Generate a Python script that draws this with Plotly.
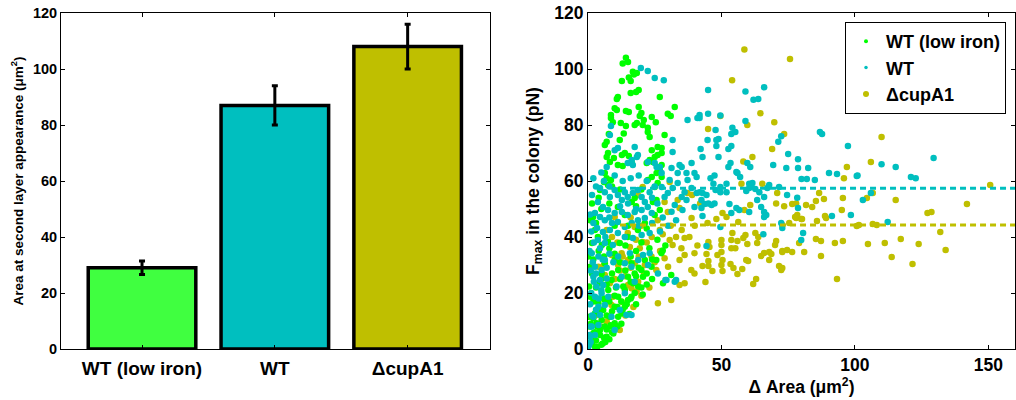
import plotly.graph_objects as go

# ---------------- Left panel: bar chart ----------------
bar_labels = ["WT (low iron)", "WT", "\u0394cupA1"]
bar_values = [29.0, 87.0, 108.0]
bar_errors = [2.4, 7.0, 8.0]
bar_colors = ["#40FF40", "#00BFBF", "#BFBF00"]

# ---------------- Right panel: scatter ----------------
green_x = [14.2, 13, 15, 16.8, 18.3, 17.2, 15.3, 16, 12.7, 16, 18, 19, 11.2, 10.8, 26.9, 10, 10.8, 19, 32.5, 14.2,
           15.3, 20, 19.4, 8.6, 8.6, 29.9, 31, 23.9, 20.9, 18.3, 17.5, 9.3, 12.3, 14.2, 25.4, 20.5, 22.4,
           7.8, 13.4, 11.9, 7, 6.3, 22.4, 23.1, 28.7, 26.1, 7.5, 7, 8.2, 9.7, 12.7, 13.8, 15.3, 16.4, 11.2, 13,
           6.3, 7, 8.6, 6, 7.5, 22, 23.1, 25, 26.1, 23.9, 27.6, 27.6, 24.3, 27.6, 26.9, 25.7, 27.6, 22.4, 23.9,
           26.1, 25, 17.5, 16.4, 24.3, 25.7, 26.9, 25, 4.5, 1.9, 0.7, 2.6, 3.7, 1.5, 5.2, 7.5, 11.9, 14.9, 18.7,
           21.3, 13.8, 11.2,
           0.1, 0.75, 0.4, 0.75, 0.4, 0.75, 1.4, 2.6, 2, 3.2, 2.6, 3.9, 4.5, 5.1, 6.3, 10, 11.3, 8.8, 7.6, 6.3,
           5.7, 5.1, 4.5, 6.3, 8.2, 10, 11.3, 13.2, 15, 17.5, 18.8, 16.3, 13.8, 11.3, 8.8, 7, 10, 12.6, 15, 16.9,
           20, 21.3, 23.8, 25.6, 27.5, 31.2, 28.1, 20.6, 13.8, 16.3, 28, 9.5, 12.5, 15.5, 18, 20.5, 22, 8, 5.5, 3.5,
           1.5, 2.5, 3, 4.5, 5, 6, 7, 8.5, 11, 6.5, 9, 3.5, 1, 2,
           5, 7, 9, 11, 13, 12.5, 14.5, 16, 8, 10, 6, 3.5, 2, 17.5,
           3, 5, 7, 9, 10.5, 12, 14, 16, 18, 20, 19, 22, 24, 1.5,
           2, 4, 6, 8, 10, 12, 14, 16, 18, 20, 23, 26, 29, 24,
           3, 5, 8, 10, 12, 15, 18, 20, 22, 9, 4, 1.5]
green_y = [104, 102, 102.5, 99, 98.6, 98, 97, 95.7, 95.7, 91.4, 91.8, 92.5, 90, 89.3, 90, 86, 85.4, 86.4, 86.4, 85,
           84.6, 84.3, 83.2, 83.6, 82.5, 84, 83.2, 82.9, 81.8, 80.7, 80, 81, 80.7, 79.6, 81, 80, 79,
           76.8, 77, 74.6, 74, 72.9, 77.5, 75.7, 76.4, 72.1, 70, 68.6, 66.8, 68.2, 69.3, 70, 68.9, 66.4, 65.7, 65.4,
           62.9, 61, 60.4, 59.6, 58.6, 66.4, 67.5, 68.6, 69.3, 71, 71.8, 70, 66.8, 65.7, 63.9, 62.9, 61.4, 60.4, 61.4,
           59.3, 57.9, 53.9, 52.5, 52.5, 53.2, 49.6, 47.9, 56.8, 47.1, 46, 42.5, 40, 37.9, 37.1, 38.2, 37.9, 40, 42.5,
           45, 47.9, 50.7,
           33, 29.4, 22.3, 18.7, 11.5, 8, 2, 0.8, 5.6, 9.2, 12.7, 16.3, 23.5, 27, 30.6, 31.8, 28.2, 24.6, 21.1, 17.5,
           13.9, 10.4, 6.8, 8, 11.5, 15.1, 18.7, 22.3, 25.8, 27, 22.3, 18.7, 15.1, 11.5, 8, 4.4, 9.2, 12.7, 17.5, 23.5,
           28.2, 31.8, 29.4, 31.8, 34.2, 26.4, 23.5, 25.8, 21.1, 30.6, 35.2, 5.5, 9, 12.5, 16, 19.5, 23, 3.5, 2, 0.8,
           4, 6, 3, 5, 1.5, 4, 7, 8.5, 8, 2.5, 6, 8, 9, 11,
           14, 12, 13.5, 15, 14, 17, 16, 18, 17, 19, 18, 14, 17, 20,
           22, 25, 23, 27, 22, 25, 28, 24, 26, 22, 29, 27, 25, 27,
           32, 35, 33, 36, 34, 31, 37, 33, 35, 38, 36, 39, 37, 32,
           45, 50, 52, 44, 57, 44, 51, 57, 43, 58, 54, 52]

cyan_x = [19.8, 22.4, 25, 28.4, 45, 59, 66, 62, 63.8, 8.6, 37.3, 41, 41.8, 41.8, 45, 49.6, 59, 47.8, 54.1, 55.2,
          53.7, 44.8, 48.1, 48.9, 48.1, 53.7, 52.6, 42.2, 42.9, 48.9, 72.4, 71.3, 75, 78.7, 59.7, 60.8, 53.4, 52.6,
          69.4, 74.3, 78.7, 82.5, 86.9, 87.7, 97.4, 90.3, 93.3, 56, 57, 47.4, 45.9, 80, 82, 85, 100.7, 31.7, 26.9,
          34.3, 40.7, 55.6,
          47, 49.6, 51.9, 49.6, 51.9, 47.8, 41.8, 42.9, 44.4, 42.5, 43.7, 46.3, 47.4, 45.1, 42.9, 42.5, 60.4, 61.6,
          60.4, 59.3, 61.2, 62.7, 64.2, 67.9, 71.6, 67.2, 74.6, 78.4, 63.4, 66, 53, 55.6, 56.7, 53.7, 60.4, 64.9,
          66, 66.8, 66, 78.7, 72.4, 72.8, 91.4, 98.5, 80.6, 79.9, 65.7, 49.6, 44.4,
          129.5, 110, 115.3, 101, 121, 122.8, 106, 103, 112.3,
          8.2, 10, 11.2, 17.5, 18.3, 14.9, 16.8, 18.7, 16.4, 22.4, 25, 25.7, 27.6, 31.3, 35.1, 33.6, 38.8, 39.9,
          37.3, 31.7, 30.6, 31.7, 36.2, 35.1, 38.8, 40.7, 36.9, 39.9, 35.4, 32.5, 28.7, 4.5, 6.3, 8.2, 10, 11.2,
          12.7, 13.8, 14.9, 16.8, 18.7, 20.1, 21.3, 23.1, 3.7, 5.6, 7.5, 10, 12.7, 14.9, 17.5, 20.1, 22.4, 23.9,
          21.3, 18.7, 16.4, 13.8, 11.2, 9, 6.3, 4.5, 2.6, 3.4, 5.6, 8.2, 11.2, 13.8, 16.8, 20.1, 23.1, 3.7, 6.3,
          9.3, 27.6, 29.9, 33.6, 36.9,
          1.4, 3.9, 6.3, 2.6, 5.1, 2, 4.5, 7, 3.2, 5.7, 2.6, 5.1, 7.6, 3.9, 6.3, 2, 4.5, 1.4, 3.9, 0.75, 2.6, 0.1,
          11.3, 13.8, 12.6, 16.3, 18.8, 20.6, 23.1, 22.5, 26.2, 29.4, 32.5, 10.7, 13.8, 11.9, 14.4, 16.3, 8.8, 10,
          15.7, 17.5, 33, 29, 31.3, 0.5, 1.0,
          0.5, 1, 1.5, 0.8, 1.2, 2.2, 1, 1.8, 0.6, 2.2, 1.2, 3, 4, 5, 3, 5.5, 4.5, 6.5, 8, 7, 9.5, 2, 0.8, 1.5,
          3, 6, 8, 10, 13, 16, 19, 22, 25, 24, 26, 12, 15, 18, 8, 19, 24, 28, 30, 27, 33, 5, 7, 2]
cyan_y = [100.4, 99.3, 96.8, 96, 92.5, 92, 93.5, 89, 89.3, 79.6, 81.8, 82.5, 83.6, 82.5, 84, 83.4, 81.4, 78.2, 79, 77.5,
          76.8, 74.6, 74.6, 75, 72.5, 72.5, 71.4, 71.4, 68.6, 68.6, 76, 74, 69.6, 67.8, 66.4, 65, 66.4, 65,
          65.7, 64.6, 64.6, 64.6, 77.5, 76.8, 72.5, 62.9, 62.5, 62.9, 61.4, 62, 61, 60.7, 60.7, 60.4, 61.8, 74.6, 65,
          65.7, 61.4, 63.2,
          59, 57.9, 59, 56, 56, 56.8, 56, 55.7, 55, 53.2, 51.8, 51.4, 52, 52, 47.5, 50.4, 59, 59.3,
          57.5, 56.4, 58.2, 57.1, 56, 58.6, 57.9, 57.5, 55, 54, 53.2, 54.3, 51.8, 50.4, 49.6, 48.6, 48.9, 50.7,
          48.9, 47.9, 47.1, 50.4, 45, 43.2, 47.5, 47.9, 41.4, 38.9, 41, 43.6, 36.8,
          68.2, 66, 65, 62, 61.4, 61, 55.7, 53.2, 45.4,
          76.4, 71, 71.8, 72.1, 68.6, 66.4, 65.7, 69.3, 67.5, 66.8, 66.4, 65, 62.9, 64.6, 65, 62.9, 66.4, 62.9,
          60.4, 70.4, 60.4, 57.5, 56, 54.3, 57.5, 55.7, 53.2, 50.7, 49.6, 51.4, 54.3, 57.5, 56, 54.3, 56.8, 55,
          53.2, 56, 54.3, 55.7, 56.8, 54.3, 52.5, 56, 52.5, 50.7, 49.6, 48.6, 48.9, 47.9, 48.9, 49.6, 50.7, 48.6,
          46.8, 46, 45, 43.6, 45.4, 45, 46, 47.1, 48.6, 43.2, 41.8, 42.5, 41.4, 40, 39.6, 40.7, 41.4, 38.9, 37.9,
          37.1, 57.9, 55.7, 59.3, 62.9,
          34.2, 33, 31.8, 29.4, 28.2, 25.8, 24.6, 25.2, 22.3, 22.9, 18.7, 19.9, 18.7, 15.1, 15.7, 11.5, 12.1, 8, 8.6, 4.4, 5, 0.8,
          33, 30.6, 25.8, 29.4, 31.8, 33.6, 34.2, 30, 27, 24.6, 24, 22.3, 19.9, 13.9, 12.1, 12.1, 11.5, 6.8,
          34.2, 24, 24.6, 24.6, 49, 1.5, 2.5,
          5, 8, 12, 16, 20, 24, 28, 31, 35, 38, 42, 14, 18, 21, 27, 32, 36, 40, 34, 29, 31, 45, 48, 55,
          58, 60, 58, 62, 60, 61, 62, 60, 58, 54, 52, 51, 52, 50, 47, 44, 45, 47, 44, 42, 46, 63, 65, 61]

olive_x = [58.6, 75.7, 54, 64.6, 69.8, 49.6, 59.7, 45, 73.5, 69, 61.6, 58.2, 97, 95.9,
           57.5, 65.3, 70.9, 70.5, 73.5, 76.5, 78, 81.7, 84, 85.4, 86.6, 88.4, 95.5, 95.1, 88.8, 89.2, 60.8, 58.6,
           56.3, 50.4, 48.1, 44.8, 51.9, 62.7, 63.8, 63.4, 59, 58.2, 59.7, 54.1, 56, 53.7, 50, 50, 53.7, 55.2, 50,
           45.1, 45.5, 44.4, 45.1, 48.5, 50.4, 50, 50.4, 46.6, 42.9, 45.1, 53.4, 54.5, 56, 57.8, 59.3, 60, 64.9, 66,
           67.9, 68.7, 67.9, 70.5, 70.1, 72.8, 74.6, 71.6, 72.4, 63, 61.9, 44, 87.3, 85.4, 87.3, 92.5, 95.5, 81,
           93.3, 79.1, 72.8, 75.4, 78, 79.9, 85.8, 78.4, 77.6, 80.2, 76.5, 72.8, 72.8,
           110, 106, 150.7, 106.7, 104.5, 115.3, 142, 127.2, 128.7, 100.7, 101.5, 106.7, 108.2, 132, 104.9, 111.2,
           117.2, 123.9, 134, 113.8, 121.6,
           20.5, 18.7, 30.6, 28.7, 33.6, 29.9, 34.3, 37.3, 38.8, 35.1, 36.2, 30.6, 31.7, 26.9, 23.9, 20.5, 14.9,
           17.5, 15.7, 19.4, 10, 7, 26.1,
           8.8, 12.6, 15, 11.3, 17.5, 21.3, 23.8, 25.6, 28.7, 30, 34.3, 36.2, 39.9, 38.7, 39.9, 36.2, 34.3, 26.2,
           31.2, 18.8, 16.3, 18.2, 3.9, 6.3, 8.2, 3.2, 3.9, 8.8, 7, 9.4, 12.6, 15, 11.9, 2.6,
           10, 12, 14, 16, 19, 21, 23, 25, 27, 22, 18, 13, 11, 9, 16, 20, 28, 31, 33, 35, 38, 40, 41, 42, 39,
           6, 14, 17, 20, 5]
olive_y = [107, 103.6, 96, 84.2, 81, 83.2, 80, 78.6, 76.8, 71.4, 68.6, 67, 65, 61,
           59, 59, 55.7, 52, 51, 51.8, 52, 51.4, 50.7, 52.9, 55.7, 53.6, 53.9, 49.6, 47.5, 46.8, 51.4, 49.6,
           45.4, 48.6, 46.4, 45, 47.1, 41.4, 40, 37.9, 40.7, 39.6, 37.5, 41.4, 38.6, 38.9, 38.9, 37.1, 36, 36, 34.6,
           38.2, 36.4, 33.9, 31.4, 33.6, 31.8, 30, 27.9, 27.9, 29.6, 29.6, 30.4, 28.9, 26.8, 28.6, 31.8, 31.4, 33.2, 34.3,
           34.6, 33.9, 31.8, 38.6, 37.1, 35, 35.4, 29.6, 28.2, 25, 23.2, 23.9, 33.2, 39.3, 38.6, 37.9, 38.6, 34.6,
           25, 37.9, 44.3, 45, 46.8, 46.4, 45.7, 47.9, 47.1, 46.4, 34.6, 34.6, 28.9,
           75.7, 66.8, 58.6, 55.7, 53.9, 53.2, 51.8, 48.6, 48.9, 43.9, 44.3, 44.6, 44.3, 41.8, 37.5, 37.9,
           39.3, 37.5, 35.4, 32.9, 30.4,
           57.9, 55, 59.6, 52.5, 53.2, 48.9, 50.4, 55.7, 46.8, 42.5, 39.6, 38.9, 37.1, 42.5, 40, 38.2, 41.4,
           43.6, 36.4, 36, 47.1, 42.5, 46,
           33.6, 34.2, 31.8, 30, 30.6, 30, 33, 28.2, 32.4, 29.4, 31.8, 33.6, 34.2, 28.2, 27, 23.5, 22.9, 16.3,
           17.5, 24, 21.7, 20.5, 29.4, 26.4, 23.5, 12.1, 17.5, 15.7, 9.8, 18.7, 16.9, 22.9, 6.8, 3.2,
           25, 28, 26, 29, 33, 27, 22, 31, 35, 38, 39, 33, 38, 40, 47, 44, 41, 44, 40, 36, 40, 44, 37, 52, 55,
           30, 12, 15, 19, 8]

# mean plateau levels (dashed lines)
line_x = [12, 160]
cyan_level = 57.4
olive_level = 44.3

GREEN = "#00FF00"
CYAN = "#00BFBF"
OLIVE = "#BFBF00"
FONT = "Liberation Sans"

W, H = 1016, 400
# plot area in pixels: x 61..1015, y 13..349
L, T = 61, 13
R = W - 1015
B = H - 349
PW = W - L - R

fig = go.Figure()

fig.add_trace(go.Bar(
    x=[1, 2, 3], y=bar_values, width=0.81,
    marker=dict(color=bar_colors, line=dict(color="black", width=3.5)),
    error_y=dict(type="data", array=bar_errors, color="black", thickness=3, width=3),
    xaxis="x", yaxis="y", showlegend=False))

msize = 6.5
fig.add_trace(go.Scatter(x=olive_x, y=olive_y, mode="markers", marker=dict(color=OLIVE, size=msize),
                         xaxis="x2", yaxis="y2", showlegend=False))
fig.add_trace(go.Scatter(x=green_x, y=green_y, mode="markers", marker=dict(color=GREEN, size=msize),
                         xaxis="x2", yaxis="y2", showlegend=False))
fig.add_trace(go.Scatter(x=cyan_x, y=cyan_y, mode="markers", marker=dict(color=CYAN, size=msize),
                         xaxis="x2", yaxis="y2", showlegend=False))
fig.add_trace(go.Scatter(x=line_x, y=[cyan_level, cyan_level], mode="lines",
                         line=dict(color=CYAN, width=3, dash="6px,4px"),
                         xaxis="x2", yaxis="y2", showlegend=False))
fig.add_trace(go.Scatter(x=line_x, y=[olive_level, olive_level], mode="lines",
                         line=dict(color=OLIVE, width=3, dash="6px,4px"),
                         xaxis="x2", yaxis="y2", showlegend=False))

# legend-only entries
for name, col, sz in [("WT (low iron)", GREEN, 4), ("WT", CYAN, 3.5), ("\u0394cupA1", OLIVE, 6)]:
    fig.add_trace(go.Scatter(x=[None], y=[None], mode="markers", name=name,
                             marker=dict(color=col, size=sz), xaxis="x2", yaxis="y2"))

axis_common = dict(showline=True, linecolor="black", linewidth=1, mirror="ticks", ticks="inside",
                   ticklen=4, tickcolor="black", showgrid=False, zeroline=False, automargin=False)

fig.update_layout(
    width=W, height=H,
    margin=dict(l=L, r=R, t=T, b=B, autoexpand=False),
    paper_bgcolor="white", plot_bgcolor="white",
    font=dict(family=FONT, color="black"),
    xaxis=dict(domain=[0, (490 - 61) / PW], range=[0.39, 3.62], tickvals=[1, 2, 3], ticktext=bar_labels,
               tickfont=dict(size=19, weight="bold"), ticklabelstandoff=2, anchor="y", **axis_common),
    yaxis=dict(domain=[0, 1], range=[0, 120], dtick=20,
               tickfont=dict(size=14.5, weight="bold"), anchor="x",
               title=dict(text="Area at second layer appearance (\u03bcm<sup>2</sup>)",
                          font=dict(size=13.5, weight="bold"), standoff=6),
               **axis_common),
    xaxis2=dict(domain=[(588 - 61) / PW, 1], range=[0, 160], tickvals=[0, 50, 100, 150],
                tickfont=dict(size=17.5, weight="bold"), anchor="y2",
                title=dict(text="\u0394 Area (\u03bcm<sup>2</sup>)", font=dict(size=17.5, weight="bold"), standoff=6),
                **axis_common),
    yaxis2=dict(domain=[0, 1], range=[0, 120], dtick=20,
                tickfont=dict(size=17.5, weight="bold"), anchor="x2",
                title=dict(text="F<sub>max</sub> in the colony (pN)", font=dict(size=17.5, weight="bold"), standoff=10),
                **axis_common),
    legend=dict(x=845 / W, y=1 - 22 / H, xref="container", yref="container",
                xanchor="left", yanchor="top",
                bgcolor="white", bordercolor="black", borderwidth=1,
                font=dict(size=18, weight="bold"), itemsizing="trace", itemwidth=30),
)

# remove the default 8px page margin so the figure sits at the window origin
fig.write_html("out.html", config={"displayModeBar": False},
               post_script="document.body.style.margin='0';")
